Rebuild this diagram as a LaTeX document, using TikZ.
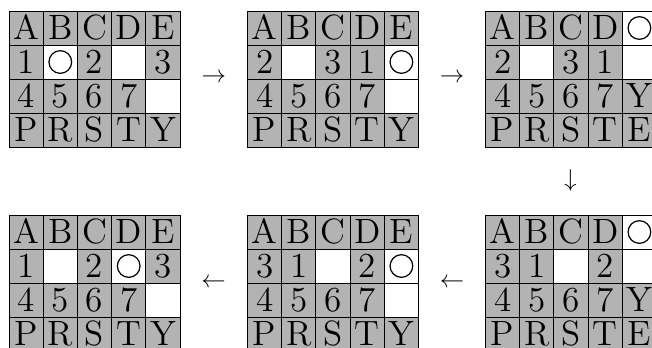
\documentclass[tikz,border=0pt]{standalone}
\definecolor{cellgray}{RGB}{179,179,179}
\tikzset{
  cell/.style={draw=black, line width=0.4pt, minimum width=14.022pt, minimum height=13.94pt, inner sep=0pt, outer sep=0pt},
  gc/.style={cell, fill=cellgray},
  wc/.style={cell, fill=white},
  celltext/.style={anchor=base, inner sep=0pt, font=\fontsize{14.4}{17}\selectfont},
  ring/.style={circle, draw=black, line width=0.5pt, minimum size=9.3pt, inner sep=0pt},
  arrowsym/.style={inner sep=0pt, font=\fontsize{10}{12}\selectfont}
}
\newcommand\placegrid[4]{%
  \foreach \c/\r/\k/\t in {#4}{%
    \node[\k] (#1-\c-\r) at ({#2+(\c-0.5)*34.2},{#3+(\r-0.5)*34}) {};
    \node[celltext] (#1-t-\c-\r) at ({#2+(\c-0.5)*34.2},{#3+(\r-1)*34+28.5}) {\t};
  }}
\begin{document}
\begin{tikzpicture}[x=0.41pt,y=-0.41pt]
\useasboundingbox (0,0) rectangle (652,347);
\clip (0,0) rectangle (652,347);
% grid 1
\placegrid{ga}{9}{11}{1/1/gc/A,2/1/gc/B,3/1/gc/C,4/1/gc/D,5/1/gc/E,
  1/2/gc/1,2/2/wc/{},3/2/gc/2,4/2/wc/{},5/2/gc/3,
  1/3/gc/4,2/3/gc/5,3/3/gc/6,4/3/gc/7,5/3/wc/{},
  1/4/gc/P,2/4/gc/R,3/4/gc/S,4/4/gc/T,5/4/gc/Y}
\node[ring] (ga-ring) at (ga-2-2) {};
% grid 2
\placegrid{gb}{247.5}{11}{1/1/gc/A,2/1/gc/B,3/1/gc/C,4/1/gc/D,5/1/gc/E,
  1/2/gc/2,2/2/wc/{},3/2/gc/3,4/2/gc/1,5/2/wc/{},
  1/3/gc/4,2/3/gc/5,3/3/gc/6,4/3/gc/7,5/3/wc/{},
  1/4/gc/P,2/4/gc/R,3/4/gc/S,4/4/gc/T,5/4/gc/Y}
\node[ring] (gb-ring) at (gb-5-2) {};
% grid 3
\placegrid{gc}{485.5}{11}{1/1/gc/A,2/1/gc/B,3/1/gc/C,4/1/gc/D,5/1/wc/{},
  1/2/gc/2,2/2/wc/{},3/2/gc/3,4/2/gc/1,5/2/wc/{},
  1/3/gc/4,2/3/gc/5,3/3/gc/6,4/3/gc/7,5/3/gc/Y,
  1/4/gc/P,2/4/gc/R,3/4/gc/S,4/4/gc/T,5/4/gc/E}
\node[ring] (gc-ring) at (gc-5-1) {};
% grid 6 (bottom right)
\placegrid{gf}{485.5}{215}{1/1/gc/A,2/1/gc/B,3/1/gc/C,4/1/gc/D,5/1/wc/{},
  1/2/gc/3,2/2/gc/1,3/2/wc/{},4/2/gc/2,5/2/wc/{},
  1/3/gc/4,2/3/gc/5,3/3/gc/6,4/3/gc/7,5/3/gc/Y,
  1/4/gc/P,2/4/gc/R,3/4/gc/S,4/4/gc/T,5/4/gc/E}
\node[ring] (gf-ring) at (gf-5-1) {};
% grid 5 (bottom middle)
\placegrid{ge}{247.5}{215}{1/1/gc/A,2/1/gc/B,3/1/gc/C,4/1/gc/D,5/1/gc/E,
  1/2/gc/3,2/2/gc/1,3/2/wc/{},4/2/gc/2,5/2/wc/{},
  1/3/gc/4,2/3/gc/5,3/3/gc/6,4/3/gc/7,5/3/wc/{},
  1/4/gc/P,2/4/gc/R,3/4/gc/S,4/4/gc/T,5/4/gc/Y}
\node[ring] (ge-ring) at (ge-5-2) {};
% grid 4 (bottom left)
\placegrid{gd}{9}{215}{1/1/gc/A,2/1/gc/B,3/1/gc/C,4/1/gc/D,5/1/gc/E,
  1/2/gc/1,2/2/wc/{},3/2/gc/2,4/2/wc/{},5/2/gc/3,
  1/3/gc/4,2/3/gc/5,3/3/gc/6,4/3/gc/7,5/3/wc/{},
  1/4/gc/P,2/4/gc/R,3/4/gc/S,4/4/gc/T,5/4/gc/Y}
\node[ring] (gd-ring) at (gd-4-2) {};
% arrows between steps
\node[arrowsym] (a1) at (213.7,78) {$\rightarrow$};
\node[arrowsym] (a2) at (452,78) {$\rightarrow$};
\node[arrowsym] (a3) at (570.5,180) {$\downarrow$};
\node[arrowsym] (a4) at (452,283) {$\leftarrow$};
\node[arrowsym] (a5) at (213.5,283) {$\leftarrow$};
\end{tikzpicture}
\end{document}
